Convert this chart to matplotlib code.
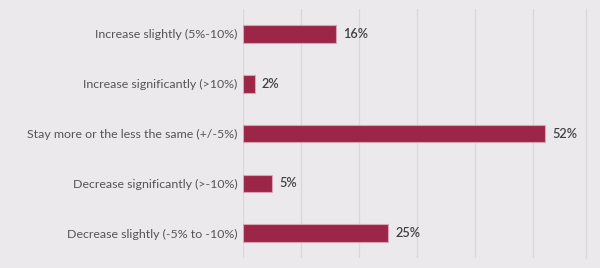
import matplotlib
matplotlib.use("Agg")
import matplotlib.pyplot as plt

categories = [
    "Increase slightly (5%-10%)",
    "Increase significantly (>10%)",
    "Stay more or the less the same (+/-5%)",
    "Decrease significantly (>-10%)",
    "Decrease slightly (-5% to -10%)",
]
values = [16, 2, 52, 5, 25]
value_labels = ["16%", "2%", "52%", "5%", "25%"]
grid_ticks = [0, 10, 20, 30, 40, 50]

bg = "#ebe9ec"
bar_color = "#9b2648"
edge_color = "#d9a3b3"

fig = plt.figure(figsize=(6.0, 2.68), dpi=100, facecolor=bg)
ax = fig.add_axes([0.4055, 0.037, 0.5707, 0.9295], facecolor=bg)

ypos = list(range(len(categories)))
ax.barh(ypos, values, height=0.355, color=bar_color, edgecolor=edge_color,
        linewidth=0.8, zorder=3)

ax.set_xlim(0, 59)
ax.set_ylim(len(categories) - 0.5, -0.5)

ax.set_xticks(grid_ticks)
ax.xaxis.grid(True, color="#d9d7da", linewidth=0.9, zorder=0)
ax.tick_params(axis="x", length=0, labelbottom=False)
ax.tick_params(axis="y", length=0, pad=4)

ax.set_yticks(ypos)
ax.set_yticklabels(categories, fontfamily="Lato", fontsize=8.9, color="#555555")

for side in ["top", "bottom", "left"]:
    ax.spines[side].set_visible(False)
ax.spines["right"].set_color("#d9d7da")
ax.spines["right"].set_linewidth(0.9)

for y, v, lab in zip(ypos, values, value_labels):
    ax.annotate(lab, xy=(v, y), xytext=(5, 0), textcoords="offset points",
                va="center", ha="left", fontfamily="Lato", fontsize=9.2,
                fontweight="semibold", color="#404040", zorder=4)

fig.savefig("out.png", dpi=100, facecolor=bg)
